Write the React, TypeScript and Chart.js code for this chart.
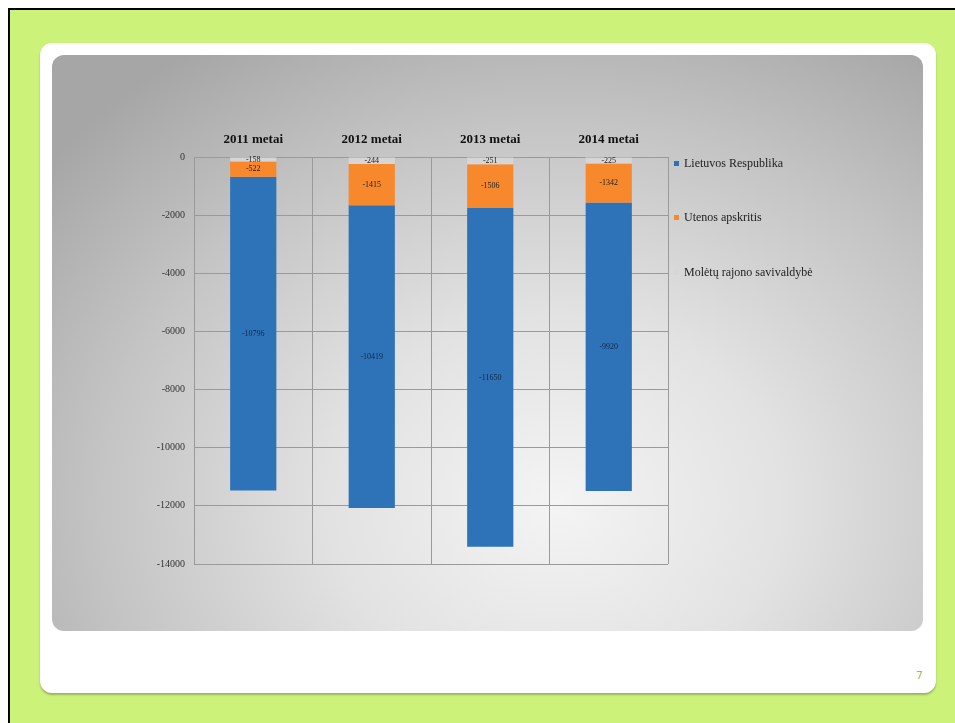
import React, { useEffect, useRef } from "react";
import { Chart, registerables } from "chart.js";

Chart.register(...registerables);

const categories = ["2011 metai", "2012 metai", "2013 metai", "2014 metai"];
const moletai = [-158, -244, -251, -225];
const utena = [-522, -1415, -1506, -1342];
const lietuva = [-10796, -10419, -11650, -9920];
const yTicks = [0, -2000, -4000, -6000, -8000, -10000, -12000, -14000];

const seriesNames = ["Lietuvos Respublika", "Utenos apskritis", "Molėtų rajono savivaldybė"];
const seriesColors = ["#2e73b8", "#f7892c", "#d6d6d6"];

const FONT = "'Liberation Serif', 'Times New Roman', serif";

const labelPlugin = {
  id: "segLabels",
  afterDatasetsDraw(chart: any) {
    const ctx = chart.ctx;
    ctx.save();
    ctx.font = `8px ${FONT}`;
    ctx.textAlign = "center";
    ctx.textBaseline = "middle";
    chart.data.datasets.forEach((ds: any, i: number) => {
      const meta = chart.getDatasetMeta(i);
      meta.data.forEach((el: any, j: number) => {
        const v = ds.data[j];
        const p = el.getProps(["x", "y", "base"], true);
        const cy = (p.y + p.base) / 2;
        ctx.fillStyle = i === 2 ? "#0d2a4a" : "#222";
        ctx.fillText(String(v), p.x, cy);
      });
    });
    ctx.restore();
  },
};

export default function App() {
  const ref = useRef<HTMLCanvasElement>(null);
  useEffect(() => {
    if (!ref.current) return;
    const chart = new Chart(ref.current, {
      type: "bar",
      data: {
        labels: categories,
        datasets: [
          { label: seriesNames[2], data: moletai, backgroundColor: seriesColors[2] },
          { label: seriesNames[1], data: utena, backgroundColor: seriesColors[1] },
          { label: seriesNames[0], data: lietuva, backgroundColor: seriesColors[0] },
        ],
      },
      options: {
        animation: false,
        responsive: false,
        maintainAspectRatio: false,
        datasets: { bar: { categoryPercentage: 1, barPercentage: 0.39 } } as any,
        layout: { padding: { left: 82, right: 255, top: 72, bottom: 67 } },
        plugins: { legend: { display: false }, tooltip: { enabled: false } },
        scales: {
          x: {
            stacked: true,
            position: "top",
            grid: { color: "#9a9a9a", drawTicks: false, lineWidth: 1 },
            border: { color: "#9a9a9a" },
            ticks: { color: "#111", padding: 10, font: { family: FONT, size: 13, weight: "bold" } },
            afterFit: (s: any) => { s.height = 30; },
          },
          y: {
            stacked: true,
            min: -14000,
            max: 0,
            afterBuildTicks: (s: any) => { s.ticks = yTicks.map((v) => ({ value: v })); },
            grid: { color: "#9a9a9a", drawTicks: false, lineWidth: 1 },
            border: { color: "#9a9a9a" },
            ticks: {
              color: "#333",
              padding: 9,
              font: { family: FONT, size: 10 },
              callback: (v: any) => String(v),
            },
            afterFit: (s: any) => { s.width = 60; },
          },
        },
      },
      plugins: [labelPlugin],
    });
    return () => chart.destroy();
  }, []);

  return (
    <div
      style={{
        position: "fixed",
        left: 8,
        top: 8,
        right: 0,
        bottom: 0,
        boxSizing: "border-box",
        background: "#ccf27a",
        borderTop: "2px solid #000",
        borderLeft: "2px solid #000",
        overflow: "hidden",
      }}
    >
      <div
        style={{
          position: "absolute",
          left: 30,
          top: 33,
          width: 896,
          height: 650,
          background: "#fff",
          borderRadius: 12,
          boxShadow: "0 2px 2px rgba(0,0,0,0.25)",
        }}
      >
        <div
          style={{
            position: "absolute",
            left: 12,
            top: 12,
            width: 871,
            height: 576,
            borderRadius: 12,
            overflow: "hidden",
            background:
              "radial-gradient(ellipse 75% 95% at 58% 78%, #f4f4f4 0%, #e2e2e2 35%, #c4c4c4 70%, #a6a6a6 100%)",
          }}
        >
          <canvas ref={ref} width={871} height={576} style={{ position: "absolute", left: 0, top: 0 }} />
          {seriesNames.map((name, i) => (
            <div
              key={name}
              style={{
                position: "absolute",
                left: 622,
                top: 101 + i * 54.5,
                height: 14,
                display: "flex",
                alignItems: "center",
                fontFamily: FONT,
                fontSize: 12,
                color: "#222",
                whiteSpace: "nowrap",
              }}
            >
              <span style={{ display: "inline-block", width: 5, height: 5, background: seriesColors[i], marginRight: 5 }} />
              {name}
            </div>
          ))}
        </div>
        <div
          style={{
            position: "absolute",
            right: 13,
            top: 626,
            fontFamily: "'DejaVu Sans', sans-serif",
            fontSize: 11,
            color: "#9bbb59",
          }}
        >
          7
        </div>
      </div>
    </div>
  );
}
